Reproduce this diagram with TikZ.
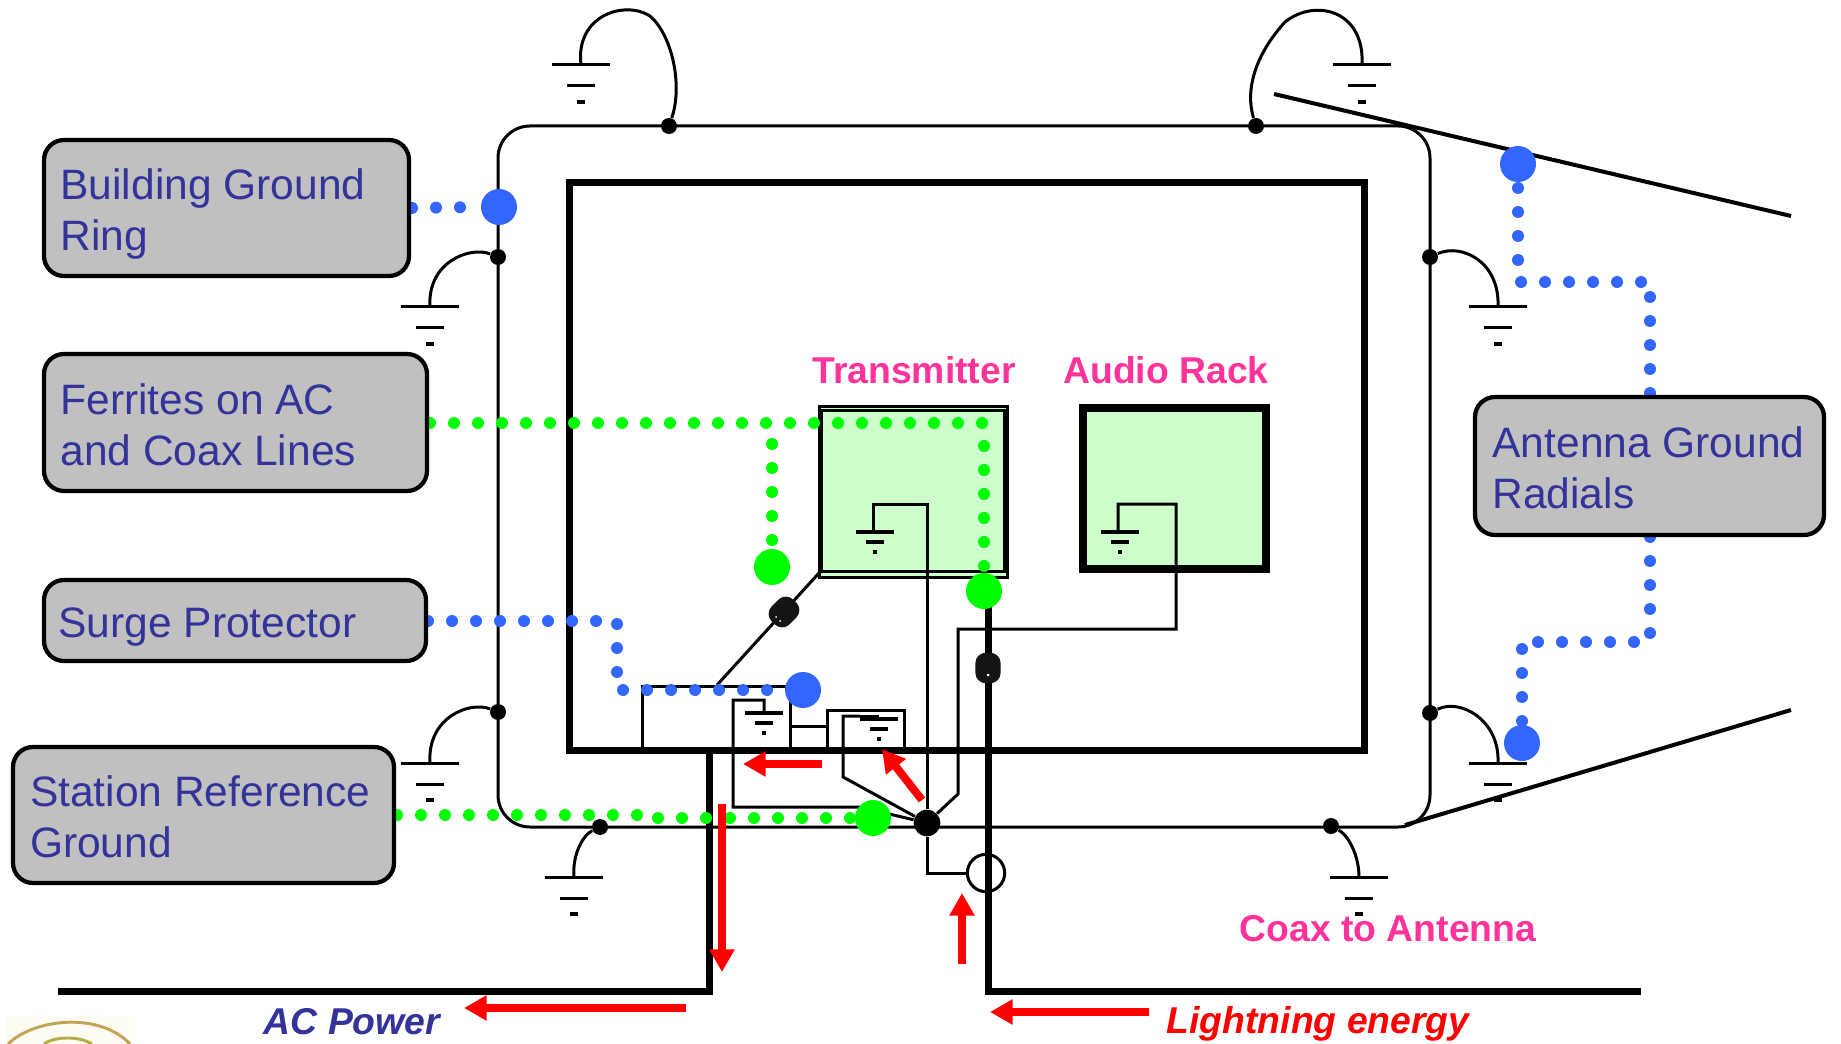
\documentclass[tikz,border=0pt]{standalone}
\usepackage{fontspec}
\setmainfont{Liberation Sans}
\usetikzlibrary{arrows.meta}

\definecolor{boxgray}{HTML}{C0C0C0}
\definecolor{boxtext}{HTML}{333399}
\definecolor{dotblue}{HTML}{3366FF}
\definecolor{dotgreen}{HTML}{00FF00}
\definecolor{rackgreen}{HTML}{CCFFCC}
\definecolor{tagpink}{HTML}{FF3399}

\tikzset{every picture/.style={line width=0.75pt}}
\tikzset{
  wire/.style={line width=2.25pt},
  heavy/.style={line width=5.25pt},
  junction/.style={circle,fill=black,inner sep=0pt,minimum size=12pt},
  ferrite/.style={fill=black!92,rounded corners=8pt,inner sep=0pt,minimum width=19pt,minimum height=23pt},
  bluedots/.style={draw=dotblue,line width=9pt,line cap=round,dash pattern=on 0pt off 18pt},
  greendots/.style={draw=dotgreen,line width=9pt,line cap=round,dash pattern=on 0pt off 18pt},
  bluespot/.style={circle,fill=dotblue,inner sep=0pt,minimum size=27pt},
  greenspot/.style={circle,fill=dotgreen,inner sep=0pt,minimum size=27pt},
  redarrow/.style={draw=red,line width=6pt,-{Triangle[length=17pt,width=18pt]}},
  labelbox/.style 2 args={draw=black,line width=3.2pt,fill=boxgray,rounded corners=15pt,
    minimum width=#1*0.75pt,minimum height=#2*0.75pt,inner sep=0pt},
  boxtitle/.style={text=boxtext,font=\fontsize{31.9}{38}\selectfont,align=left,anchor=west,inner sep=0pt},
  pinktag/.style={text=tagpink,font=\fontsize{28}{33}\selectfont\bfseries,inner sep=0pt},
  earth/.pic={
    \draw[wire] (-29,0) -- (29,0) (-14,-21) -- (14,-21);
    \draw[line width=3pt] (-4,-37) -- (4,-37);
    \coordinate (-top) at (0,0);
  },
  smallearth/.pic={
    \draw[line width=3pt] (-19,0) -- (19,0) (-9,-10) -- (9,-10);
    \draw[line width=3pt] (-2,-20) -- (2,-20);
    \coordinate (-top) at (0,0);
  }
}

\begin{document}
\begin{tikzpicture}[x=0.75pt,y=0.75pt,yscale=-1,xscale=1]
\useasboundingbox (0,0) rectangle (1841,1044);

%Logo corner
\fill [fill={rgb, 255:red, 253; green, 253; blue, 244 }] (6,1015) rectangle (135,1044);
\draw [line width=2.2pt,color={rgb, 255:red, 196; green, 164; blue, 84 }] (8,1044) .. controls (35,1018) and (100,1012) .. (130,1044);
\draw [line width=2.2pt,color={rgb, 255:red, 186; green, 170; blue, 70 }] (44,1044) .. controls (55,1036) and (80,1036) .. (92,1044);

%Building ring and inner wall
\draw [wire,rounded corners=24pt] (498,126) rectangle (1430,827);
\draw [line width=5.25pt] (569,183) rectangle (1364,750);

%Junctions on the ring
\foreach \name/\x/\y in {ringa/669/126,ringb/1256/126,ringc/498/257,ringd/1430/257,ringe/498/712,ringf/1430/713,ringg/600/827,ringh/1331/826}
  \node [junction] (\name) at (\x,\y) {};
\node [junction,minimum size=20pt] (hub) at (927,823) {};

%Earth symbols
\pic (eartha) at (581,65) {earth};
\pic (earthb) at (1362,65) {earth};
\pic (earthc) at (430,307) {earth};
\pic (earthd) at (1498,307) {earth};
\pic (earthe) at (430,763) {earth};
\pic (earthf) at (1498,763) {earth};
\pic (earthg) at (574,877) {earth};
\pic (earthh) at (1359,877) {earth};
\draw [wire] (ringa) .. controls (683,85) and (672,35) .. (650,16) .. controls (625,0) and (575,15) .. (eartha-top);
\draw [wire] (ringb) .. controls (1245,90) and (1255,55) .. (1285,22) .. controls (1315,-2) and (1365,10) .. (earthb-top);
\draw [wire] (ringc) .. controls (470,246) and (427,262) .. (earthc-top);
\draw [wire] (ringd) .. controls (1462,243) and (1500,262) .. (earthd-top);
\draw [wire] (ringe) .. controls (470,701) and (427,717) .. (earthe-top);
\draw [wire] (ringf) .. controls (1460,698) and (1500,720) .. (earthf-top);
\draw [wire] (ringg) .. controls (583,835) and (572,855) .. (earthg-top);
\draw [wire] (ringh) .. controls (1348,835) and (1359,855) .. (earthh-top);

%Antenna radials
\draw [line width=3pt] (1274,94) -- (1791,216);
\draw [line width=3pt] (1405,825) -- (1791,710);

%Transmitter
\draw [wire,fill=rackgreen] (819,407) rectangle (1007,577);
\draw [wire] (821,411) rectangle (1004,571);
\pic (earthtx) at (875,532) {smallearth};
%Audio rack
\draw [line width=6pt,fill=rackgreen] (1083,408) rectangle (1266,569);
\pic (earthrack) at (1120,532) {smallearth};

%Surge protector wiring
\draw [wire] (642,750) -- (642,686) -- (790,686) -- (790,750);
\pic (earthsp) at (764,713) {smallearth};
\pic (earthmid) at (879,719) {smallearth};
\draw [wire] (790,726) -- (827,726);
\draw [wire] (827,750) -- (827,710) -- (904,710) -- (904,750);
\draw [wire] (earthsp-top) -- (764,700) -- (733,700) -- (733,807) -- (860,807) -- (hub);
\draw [wire] (860,716) -- (843,716) -- (843,777) -- (hub);
\draw [line width=3pt] (860,717) -- (879,717);

%Wires to the hub
\draw [wire] (873,532) -- (873,504) -- (927,504) -- (hub);
\draw [wire] (1118,532) -- (1118,504) -- (1176,504) -- (1176,629) -- (958,629) -- (958,794) -- (hub);
\node [circle,draw=black,line width=2.25pt,inner sep=0pt,minimum size=28pt] (clamp) at (986,873) {};
\draw [wire] (hub) -- (927,873) -- (clamp);

%Service lines
\draw [heavy] (988,591) -- (988,991) -- (1641,991);
\draw [heavy] (709,750) -- (709,991) -- (58,991);

%Ferrites
\draw [wire] (819,573) -- (717,685);
\node [ferrite,rotate=-45] (ferritetx) at (784,612) {};
\node [ferrite] (ferritecoax) at (988,668) {};
\fill [white] (776,617) circle (1) (780,621) circle (1) (988,675) circle (1.5);

%Blue dots
\draw [bluedots] (412,208) -- (480,207);
\draw [bluedots] (428,621) -- (597,621);
\draw [bluedots] (617,624) -- (617,673);
\draw [bluedots] (623,690) -- (768,690);
\draw [bluedots] (1518,188) -- (1518,261);
\draw [bluedots] (1521,282) -- (1642,282);
\draw [bluedots] (1650,297) -- (1650,634);
\draw [bluedots] (1634,642) -- (1537,642);
\draw [bluedots] (1522,649) -- (1522,722);
%Green dots
\draw [greendots] (430,423) -- (983,423);
\draw [greendots] (984,446) -- (984,567);
\draw [greendots] (772,444) -- (772,541);
\draw [greendots] (397,815) -- (638,815);
\draw [greendots] (658,818) -- (851,818);

%Spots
\node [bluespot] (spotring) at (499,207) {};
\node [bluespot] (spotsurge) at (803,690) {};
\node [bluespot] (spotradialtop) at (1518,164) {};
\node [bluespot] (spotradial) at (1522,743) {};
\node [greenspot] (spottx) at (984,591) {};
\node [greenspot] (spotac) at (772,567) {};
\node [greenspot] (spotref) at (873,818) {};

%Label boxes
\node [labelbox={365}{136}] (boxring) at (226.5,208) {};
\node [labelbox={383}{137}] (boxferrite) at (235.5,422.5) {};
\node [labelbox={382}{81}] (boxsurge) at (235,620.5) {};
\node [labelbox={381}{136}] (boxref) at (203.5,815) {};
\node [labelbox={349}{138}] (boxradial) at (1649.5,466) {};

% Text Node
\node [boxtitle] (titlering) at (60,214) {Building Ground\\Ring};
% Text Node
\node [boxtitle] (titleferrite) at (60,424.5) {Ferrites on AC\\and Coax Lines};
% Text Node
\node [boxtitle] (titlesurge) at (58,627.5) {Surge Protector};
% Text Node
\node [boxtitle] (titleref) at (29.5,817) {Station Reference\\Ground};
% Text Node
\node [boxtitle] (titleradial) at (1492,468) {Antenna Ground\\Radials};

%Red arrows
\draw [redarrow] (722,804) -- (722,972);
\draw [redarrow] (822,764) -- (743,764);
\draw [redarrow] (922,800) -- (882,749);
\draw [redarrow] (962,964) -- (962,893);
\draw [redarrow] (686,1008) -- (464,1008);
\draw [redarrow] (1149,1012) -- (990,1012);

% Text Node
\node [pinktag] (tagtx) at (914,370) {Transmitter};
% Text Node
\node [pinktag] (tagrack) at (1166,370) {Audio Rack};
% Text Node
\node [pinktag] (tagcoax) at (1388,929) {Coax to Antenna};
% Text Node
\node [text=boxtext,font=\fontsize{28}{33}\selectfont\bfseries\itshape,inner sep=0pt] (tagac) at (352,1022) {AC Power};
% Text Node
\node [text=red,font=\fontsize{28}{33}\selectfont\bfseries\itshape,inner sep=0pt] (taglightning) at (1318,1024) {Lightning energy};

\end{tikzpicture}
\end{document}
